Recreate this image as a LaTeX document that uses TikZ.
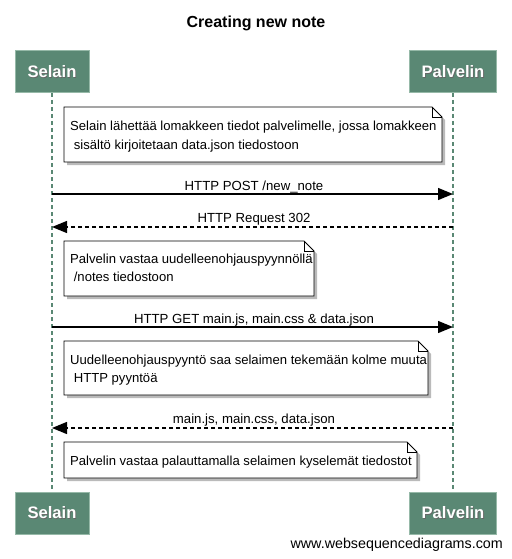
\documentclass[tikz,border=0pt]{standalone}
\usepackage{fontspec}
\setmainfont{Liberation Sans}
\usetikzlibrary{arrows.meta}
\definecolor{partfill}{RGB}{90,136,116}
\definecolor{partborder}{RGB}{150,185,168}
\definecolor{lifeline}{RGB}{90,136,116}
\tikzset{
  x=1pt,y=-1pt,
  part/.style={draw=partborder,line width=1pt,fill=partfill,minimum height=42pt,inner sep=0pt},
  partlabel/.style={text=white,font=\fontsize{16.6}{18}\selectfont\bfseries},
  partshadow/.style={text=black!60,font=\fontsize{16.6}{18}\selectfont\bfseries},
  life/.style={draw=lifeline,line width=2.6pt,dash pattern=on 4pt off 3pt},
  msg/.style={line width=1.3pt,-{Triangle[length=15pt,width=12pt]}},
  reply/.style={msg,dash pattern=on 4pt off 3pt},
  lbl/.style={font=\fontsize{13.2}{14}\selectfont,inner sep=0pt,anchor=base},
  notetext/.style={font=\fontsize{13.1}{18.5}\selectfont,inner sep=0pt,anchor=base west,align=left},
}
\newcommand{\notebox}[5]{% x1 y1 x2 y2 name
  \fill[black!45,opacity=0.6] (#1+3,#2+3) -- (#3-10+3,#2+3) -- (#3+3,#2+10+3) -- (#3+3,#4+3) -- (#1+3,#4+3) -- cycle;
  \draw[line width=0.9pt,fill=white] (#1,#2) -- (#3-10,#2) -- (#3,#2+10) -- (#3,#4) -- (#1,#4) -- cycle;
  \draw[line width=0.9pt] (#3-10,#2) -- (#3-10,#2+10) -- (#3,#2+10);
  \coordinate (#5) at (#1,#2);
}
\begin{document}
\begin{tikzpicture}
\useasboundingbox (0,0) rectangle (511,559);
\node[font=\fontsize{16}{18}\selectfont\bfseries,anchor=base,inner sep=0pt] (title) at (256,27.5) {Creating new note};

% participants
\node[part,minimum width=74pt] (s1) at (52,71.5) {};
\node[part,minimum width=87pt] (p1) at (453,71.5) {};
\node[part,minimum width=74pt] (s2) at (52,513) {};
\node[part,minimum width=87pt] (p2) at (453,513) {};
\foreach \n/\t in {s1/Selain,p1/Palvelin,s2/Selain,p2/Palvelin}{
  \node[partshadow] at ([xshift=0.8pt,yshift=-0.8pt]\n.center) {\t};
  \node[partlabel] (\n t) at (\n.center) {\t};
}

% lifelines
\draw[life] (s1.south) -- (s2.north);
\draw[life] (p1.south) -- (p2.north);

% note 1
\notebox{64}{107}{442}{162}{n1}
\node[notetext] (n1t) at (70,149) {Selain lähettää lomakkeen tiedot palvelimelle, jossa lomakkeen\\\mbox{} sisältö kirjoitetaan data.json tiedostoon};

% message 1
\coordinate (a1s) at (52,194);
\coordinate (a1e) at (453,194);
\draw[msg] (a1s) -- (a1e);
\node[lbl] (l1) at (254,190) {HTTP POST /new\_note};

% message 2
\coordinate (a2s) at (453,227);
\coordinate (a2e) at (52,227);
\draw[reply] (a2s) -- (a2e);
\node[lbl] (l2) at (254,222) {HTTP Request 302};

% note 2
\notebox{64}{241}{314}{296}{n2}
\node[notetext] (n2t) at (70,281.5) {Palvelin vastaa uudelleenohjauspyynnöllä\\\mbox{} /notes tiedostoon};

% message 3
\coordinate (a3s) at (52,327);
\coordinate (a3e) at (453,327);
\draw[msg] (a3s) -- (a3e);
\node[lbl] (l3) at (254,323) {HTTP GET main.js, main.css \& data.json};

% note 3
\notebox{64}{341}{428}{395}{n3}
\node[notetext] (n3t) at (70,382.5) {Uudelleenohjauspyyntö saa selaimen tekemään kolme muuta\\\mbox{} HTTP pyyntöä};

% message 4
\coordinate (a4s) at (453,428);
\coordinate (a4e) at (52,428);
\draw[reply] (a4s) -- (a4e);
\node[lbl] (l4) at (254,423.5) {main.js, main.css, data.json};

% note 4
\notebox{64}{442}{417}{478}{n4}
\node[notetext] (n4t) at (70,465) {Palvelin vastaa palauttamalla selaimen kyselemät tiedostot};

\node[font=\fontsize{14.3}{16}\selectfont,anchor=base east,inner sep=0pt] (wm) at (503,548) {www.websequencediagrams.com};
\end{tikzpicture}
\end{document}
